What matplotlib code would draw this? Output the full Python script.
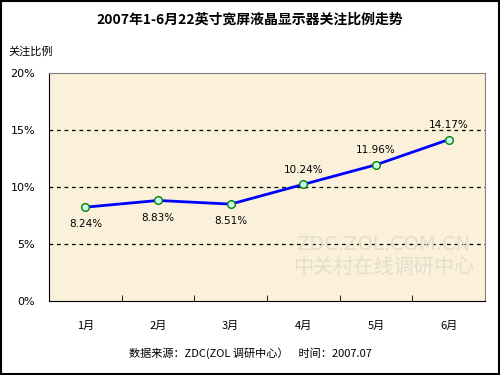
import matplotlib
matplotlib.use('Agg')
import matplotlib.pyplot as plt
from matplotlib.patches import Rectangle

plt.rcParams['font.family'] = ['Noto Sans CJK SC', 'DejaVu Sans']

# 데이터
months = ['1月', '2月', '3月', '4月', '5月', '6月']
ratio = [8.24, 8.83, 8.51, 10.24, 11.96, 14.17]
label_pos = ['below', 'below', 'below', 'above', 'above', 'above']
yticks = [0, 5, 10, 15, 20]

fig = plt.figure(figsize=(5, 3.75), dpi=100)
fig.patches.append(Rectangle((0.002, 0.003), 0.995, 0.994, transform=fig.transFigure,
                             fill=False, edgecolor='black', linewidth=1.5))

ax = fig.add_axes([0.098, 0.197, 0.872, 0.608])
ax.set_facecolor('#FBF1DA')

x = list(range(len(months)))
ax.plot(x, ratio, color='#0000FF', linewidth=2, marker='o', markersize=5.5,
        markerfacecolor='#CCFFEE', markeredgecolor='#008000', markeredgewidth=1, zorder=3)

for xi, v, p in zip(x, ratio, label_pos):
    dy = -1.5 if p == 'below' else 1.3
    ax.text(xi, v + dy, '%.2f%%' % v, ha='center', va='center', fontsize=7.5,
            family=['DejaVu Sans'])

ax.set_xlim(-0.5, 5.5)
ax.set_ylim(0, 20)
ax.set_yticks(yticks)
ax.set_yticklabels(['%d%%' % t for t in yticks], fontsize=8, family=['DejaVu Sans'])
ax.set_xticks(x)
ax.set_xticklabels(months, fontsize=8)
ax.set_xticks([i + 0.5 for i in range(-1, 6)], minor=True)
ax.tick_params(axis='x', which='major', length=0, pad=14)
ax.tick_params(axis='x', which='minor', length=4, direction='in')
ax.tick_params(axis='y', length=0, pad=10)

for t in [5, 10, 15]:
    ax.axhline(t, color='black', linestyle=(0, (3, 3)), linewidth=0.9, zorder=1)

ax.spines['left'].set_color('black')
ax.spines['bottom'].set_color('black')
ax.spines['top'].set_color('#808080')
ax.spines['right'].set_color('#808080')

# 워터마크
ax.text(4.1, 5.0, 'ZDC.ZOL.COM.CN', ha='center', va='center', fontsize=14,
        color='#E4DDCC', family=['DejaVu Sans'], zorder=2)
ax.text(4.1, 3.0, '中关村在线调研中心', ha='center', va='center', fontsize=14.5,
        color='#E4DDCC', zorder=2)

fig.text(0.5, 0.947, '2007年1-6月22英寸宽屏液晶显示器关注比例走势', ha='center', va='center',
         fontsize=10, fontweight='bold')
fig.text(0.016, 0.862, '关注比例', ha='left', va='center', fontsize=8)
fig.text(0.5, 0.059, '数据来源：ZDC(ZOL 调研中心）    时间：2007.07', ha='center',
         va='center', fontsize=8)

fig.savefig('out.png', dpi=100)
